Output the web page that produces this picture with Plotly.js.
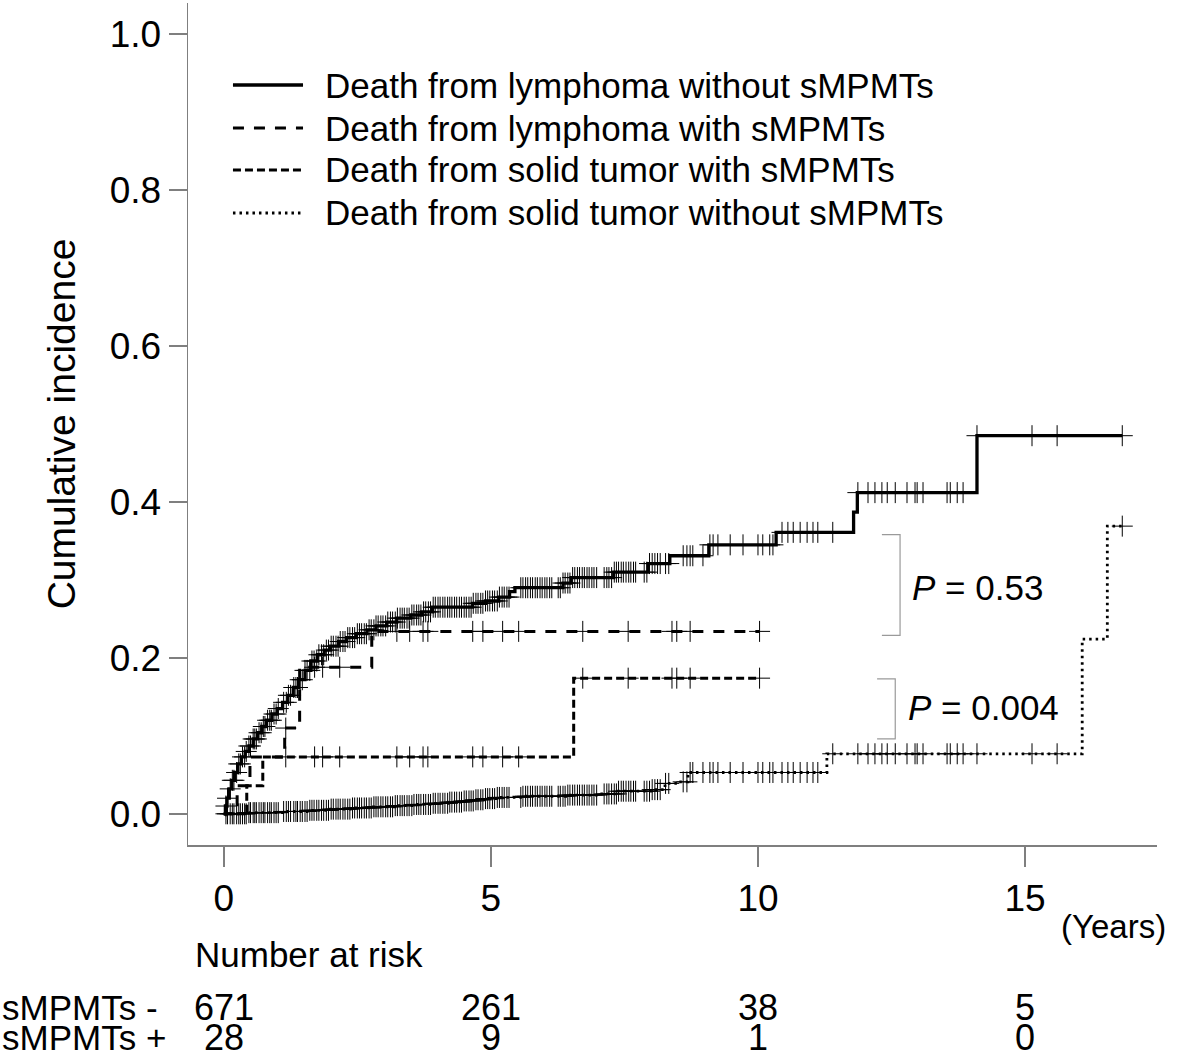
<!DOCTYPE html>
<html>
<head>
<meta charset="utf-8">
<script src="https://cdn.plot.ly/plotly-3.0.1.min.js"></script>
<style>
  html, body { margin: 0; padding: 0; background: #ffffff; }
  #chart { width: 1179px; height: 1060px; }
</style>
</head>
<body>
<div id="chart"></div>
<script>
// ---------- data ----------
// Death from lymphoma without sMPMTs (step times in years, cumulative incidence after step)
const lymNegT = [0, 0.03, 0.06, 0.10, 0.15, 0.20, 0.26, 0.33, 0.40, 0.47, 0.55, 0.63, 0.71, 0.80, 0.90, 1.00, 1.10, 1.20, 1.30, 1.40, 1.52, 1.63, 1.75, 1.88, 2.00, 2.15, 2.30, 2.48, 2.68, 2.85, 3.05, 3.24, 3.50, 3.70, 3.91, 4.66, 4.90, 5.15, 5.35, 5.45, 6.35, 6.50, 7.30, 7.94, 8.35, 9.08, 10.34, 11.79, 11.86, 14.10, 16.82];
const lymNegY = [0, 0.010, 0.020, 0.032, 0.043, 0.053, 0.064, 0.073, 0.080, 0.087, 0.096, 0.104, 0.112, 0.120, 0.128, 0.135, 0.143, 0.152, 0.162, 0.172, 0.184, 0.196, 0.204, 0.210, 0.215, 0.221, 0.226, 0.231, 0.236, 0.241, 0.246, 0.251, 0.255, 0.259, 0.265, 0.270, 0.273, 0.278, 0.285, 0.290, 0.296, 0.303, 0.310, 0.321, 0.331, 0.345, 0.361, 0.387, 0.412, 0.485, 0.485];

// Death from lymphoma with sMPMTs
const lymPosT = [0, 0.25, 0.49, 1.14, 1.42, 2.77, 10.03];
const lymPosY = [0, 0.036, 0.073, 0.110, 0.188, 0.234, 0.234];

// Death from solid tumor with sMPMTs
const solPosT = [0, 0.43, 0.73, 6.55, 10.03];
const solPosY = [0, 0.036, 0.073, 0.174, 0.174];

// Death from solid tumor without sMPMTs
const solNegT = [0, 0.45, 1.10, 1.60, 2.00, 2.40, 2.80, 3.20, 3.55, 3.90, 4.20, 4.50, 4.70, 4.90, 5.10, 5.60, 6.40, 7.00, 7.36, 8.00, 8.26, 8.50, 8.69, 11.29, 16.07, 16.54, 16.82];
const solNegY = [0, 0.0015, 0.003, 0.0045, 0.006, 0.0075, 0.009, 0.0105, 0.012, 0.0135, 0.015, 0.0165, 0.018, 0.0195, 0.021, 0.0225, 0.024, 0.0255, 0.029, 0.031, 0.039, 0.041, 0.053, 0.077, 0.224, 0.369, 0.369];

// Censoring times (years), sMPMTs - group (shared by both of its curves)
const censorNeg = [0.04, 0.07, 0.12, 0.16, 0.19, 0.24, 0.28, 0.31, 0.35, 0.39, 0.42, 0.47, 0.50, 0.55, 0.58, 0.61, 0.66, 0.70, 0.74, 0.77, 0.82, 0.86, 0.89, 0.94, 0.98,
  1.02, 1.12, 1.17, 1.21, 1.25, 1.31, 1.35, 1.38, 1.43, 1.47, 1.52, 1.56, 1.61, 1.65, 1.69, 1.74, 1.78, 1.83, 1.87, 1.92, 1.96,
  2.01, 2.05, 2.10, 2.14, 2.18, 2.23, 2.27, 2.32, 2.36, 2.41, 2.45, 2.50, 2.54, 2.58, 2.63, 2.67, 2.72, 2.76, 2.81, 2.85, 2.89, 2.94, 2.98,
  3.03, 3.07, 3.12, 3.16, 3.21, 3.25, 3.30, 3.34, 3.38, 3.43, 3.47, 3.52, 3.56, 3.61, 3.65, 3.69, 3.74, 3.78, 3.83, 3.87, 3.92, 3.96,
  4.01, 4.05, 4.10, 4.14, 4.19, 4.23, 4.27, 4.32, 4.36, 4.41, 4.45, 4.50, 4.54, 4.59, 4.63, 4.67, 4.72, 4.76, 4.81, 4.85, 4.90, 4.94, 4.98,
  5.03, 5.07, 5.12, 5.16, 5.21, 5.25, 5.30, 5.34, 5.56, 5.60, 5.65, 5.69, 5.74, 5.78, 5.83, 5.87, 5.92, 5.96, 6.01, 6.05, 6.10, 6.14,
  6.26, 6.30, 6.35, 6.39, 6.44, 6.48, 6.53, 6.57, 6.62, 6.66, 6.71, 6.75, 6.80, 6.84, 6.89, 6.93, 6.98,
  7.12, 7.17, 7.21, 7.26, 7.31, 7.35, 7.39, 7.44, 7.48, 7.53, 7.58, 7.62, 7.67, 7.71, 7.87, 7.92, 7.97, 8.02, 8.07, 8.12, 8.17, 8.27, 8.33,
  8.60, 8.67, 8.73, 8.78, 8.97, 9.10, 9.16, 9.25, 9.48, 9.72, 10.00, 10.09, 10.22, 10.28, 10.45, 10.56, 10.66, 10.79, 10.92, 11.03, 11.12, 11.40,
  11.87, 12.06, 12.19, 12.32, 12.42, 12.57, 12.79, 12.94, 12.98, 13.09, 13.54, 13.60, 13.73, 13.84, 14.10, 15.13, 15.60, 16.82];

// Censoring times (years), sMPMTs + group
const censorPos = [1.16, 1.70, 1.85, 2.17, 3.24, 3.48, 3.73, 3.82, 4.66, 4.85, 5.22, 5.52, 6.72, 7.57, 8.39, 8.48, 8.73, 10.03];

// Number at risk table
const riskTimes = [0, 5, 10, 15];
const riskNeg = [671, 261, 38, 5];
const riskPos = [28, 9, 1, 0];
const riskRowLabels = ['sMPMTs -', 'sMPMTs +'];

const seriesNames = [
  'Death from lymphoma without sMPMTs',
  'Death from lymphoma with sMPMTs',
  'Death from solid tumor with sMPMTs',
  'Death from solid tumor without sMPMTs'
];
const pValues = ['0.53', '0.004'];

// ---------- helpers ----------
function stepAt(T, Y, t) {
  let v = Y[0];
  for (let i = 0; i < T.length; i++) { if (T[i] <= t) v = Y[i]; }
  return v;
}

const FONT = 'Liberation Sans, Arial, Helvetica, sans-serif';

// line styles per series (same order as seriesNames)
const styles = [
  { dash: 'solid', width: 3.3 },
  { dash: '11px,10px', width: 3 },
  { dash: '8px,4px', width: 3 },
  { dash: '2.5px,4px', width: 2.8 }
];

const lineTrace = (T, Y, i) => ({
  type: 'scatter', mode: 'lines', x: T, y: Y, name: seriesNames[i], showlegend: false,
  line: { shape: 'hv', color: '#000000', width: styles[i].width, dash: styles[i].dash },
  hoverinfo: 'skip'
});
const censorTrace = (C, T, Y) => ({
  type: 'scatter', mode: 'markers', x: C, y: C.map(t => stepAt(T, Y, t)),
  showlegend: false, hoverinfo: 'skip',
  marker: { symbol: 'cross-thin', size: 15, color: '#000000', line: { color: '#000000', width: 1 } }
});

const data = [
  censorTrace(censorNeg, solNegT, solNegY),
  censorTrace(censorNeg, lymNegT, lymNegY),
  censorTrace(censorPos, lymPosT, lymPosY),
  censorTrace(censorPos, solPosT, solPosY),
  lineTrace(lymNegT, lymNegY, 0),
  lineTrace(lymPosT, lymPosY, 1),
  lineTrace(solPosT, solPosY, 2),
  lineTrace(solNegT, solNegY, 3)
];

// ---------- annotations ----------
const annotations = [];
const shapes = [];
const txt = (text, x, y, xref, yref, xanchor, size) => ({
  text: text, x: x, y: y, xref: xref, yref: yref, xanchor: xanchor, yanchor: 'middle',
  showarrow: false, font: { family: FONT, size: size, color: '#000000' }
});

// legend (drawn as key lines + texts, placed like the R legend)
const legendRowsY = [0.9026, 0.8515, 0.8017, 0.7506];
seriesNames.forEach((nm, i) => {
  shapes.push({
    type: 'line', xref: 'paper', yref: 'paper',
    x0: 0.0464, x1: 0.1187, y0: legendRowsY[i], y1: legendRowsY[i],
    line: { color: '#000000', width: styles[i].width, dash: styles[i].dash }
  });
  annotations.push(txt(nm, 0.1393, legendRowsY[i], 'paper', 'paper', 'left', 35));
});

const row1Y = -0.1925, row2Y = -0.2285;
annotations.push(txt('(Years)', 1.011, -0.097, 'paper', 'paper', 'right', 33));
annotations.push(txt('Number at risk', 0.005, -0.1306, 'paper', 'paper', 'left', 35));
annotations.push(txt(riskRowLabels[0], -0.194, row1Y, 'paper', 'paper', 'left', 35));
annotations.push(txt(riskRowLabels[1], -0.194, row2Y, 'paper', 'paper', 'left', 35));
riskTimes.forEach((t, i) => {
  annotations.push(txt(String(riskNeg[i]), t, row1Y, 'x', 'paper', 'center', 36));
  annotations.push(txt(String(riskPos[i]), t, row2Y, 'x', 'paper', 'center', 36));
});
annotations.push(txt('<i>P</i> = ' + pValues[0], 12.84, 0.29, 'x', 'y', 'left', 35));
annotations.push(txt('<i>P</i> = ' + pValues[1], 12.77, 0.136, 'x', 'y', 'left', 35));

const bracket = (x0, x1, y0, y1) => ({
  type: 'path', xref: 'x', yref: 'y',
  path: `M${x0},${y0} L${x1},${y0} L${x1},${y1} L${x0},${y1}`,
  line: { color: '#9a9a9a', width: 1.2 }
});
shapes.push(bracket(12.32, 12.66, 0.358, 0.229));
shapes.push(bracket(12.23, 12.57, 0.173, 0.096));

const layout = {
  width: 1179, height: 1060,
  margin: { l: 188, r: 22, t: 3, b: 215 },
  paper_bgcolor: '#ffffff', plot_bgcolor: '#ffffff',
  font: { family: FONT, size: 36, color: '#000000' },
  showlegend: false,
  xaxis: {
    range: [-0.67, 17.47], tickvals: riskTimes, ticktext: riskTimes.map(String),
    showline: true, linecolor: '#7f7f7f', linewidth: 1.5, mirror: false,
    ticks: 'outside', ticklen: 20, tickwidth: 1.5, tickcolor: '#7f7f7f',
    showgrid: false, zeroline: false,
    tickfont: { family: FONT, size: 37, color: '#000000' }
  },
  yaxis: {
    range: [-0.04, 1.04], tickvals: [0, 0.2, 0.4, 0.6, 0.8, 1.0],
    ticktext: ['0.0', '0.2', '0.4', '0.6', '0.8', '1.0'],
    showline: true, linecolor: '#7f7f7f', linewidth: 1.5, mirror: false,
    ticks: 'outside', ticklen: 18, tickwidth: 1.5, tickcolor: '#7f7f7f',
    showgrid: false, zeroline: false,
    tickfont: { family: FONT, size: 37, color: '#000000' },
    title: { text: 'Cumulative incidence', font: { family: FONT, size: 39, color: '#000000' }, standoff: 22 }
  },
  annotations: annotations,
  shapes: shapes
};

Plotly.newPlot('chart', data, layout, { staticPlot: true, displayModeBar: false });
</script>
</body>
</html>
